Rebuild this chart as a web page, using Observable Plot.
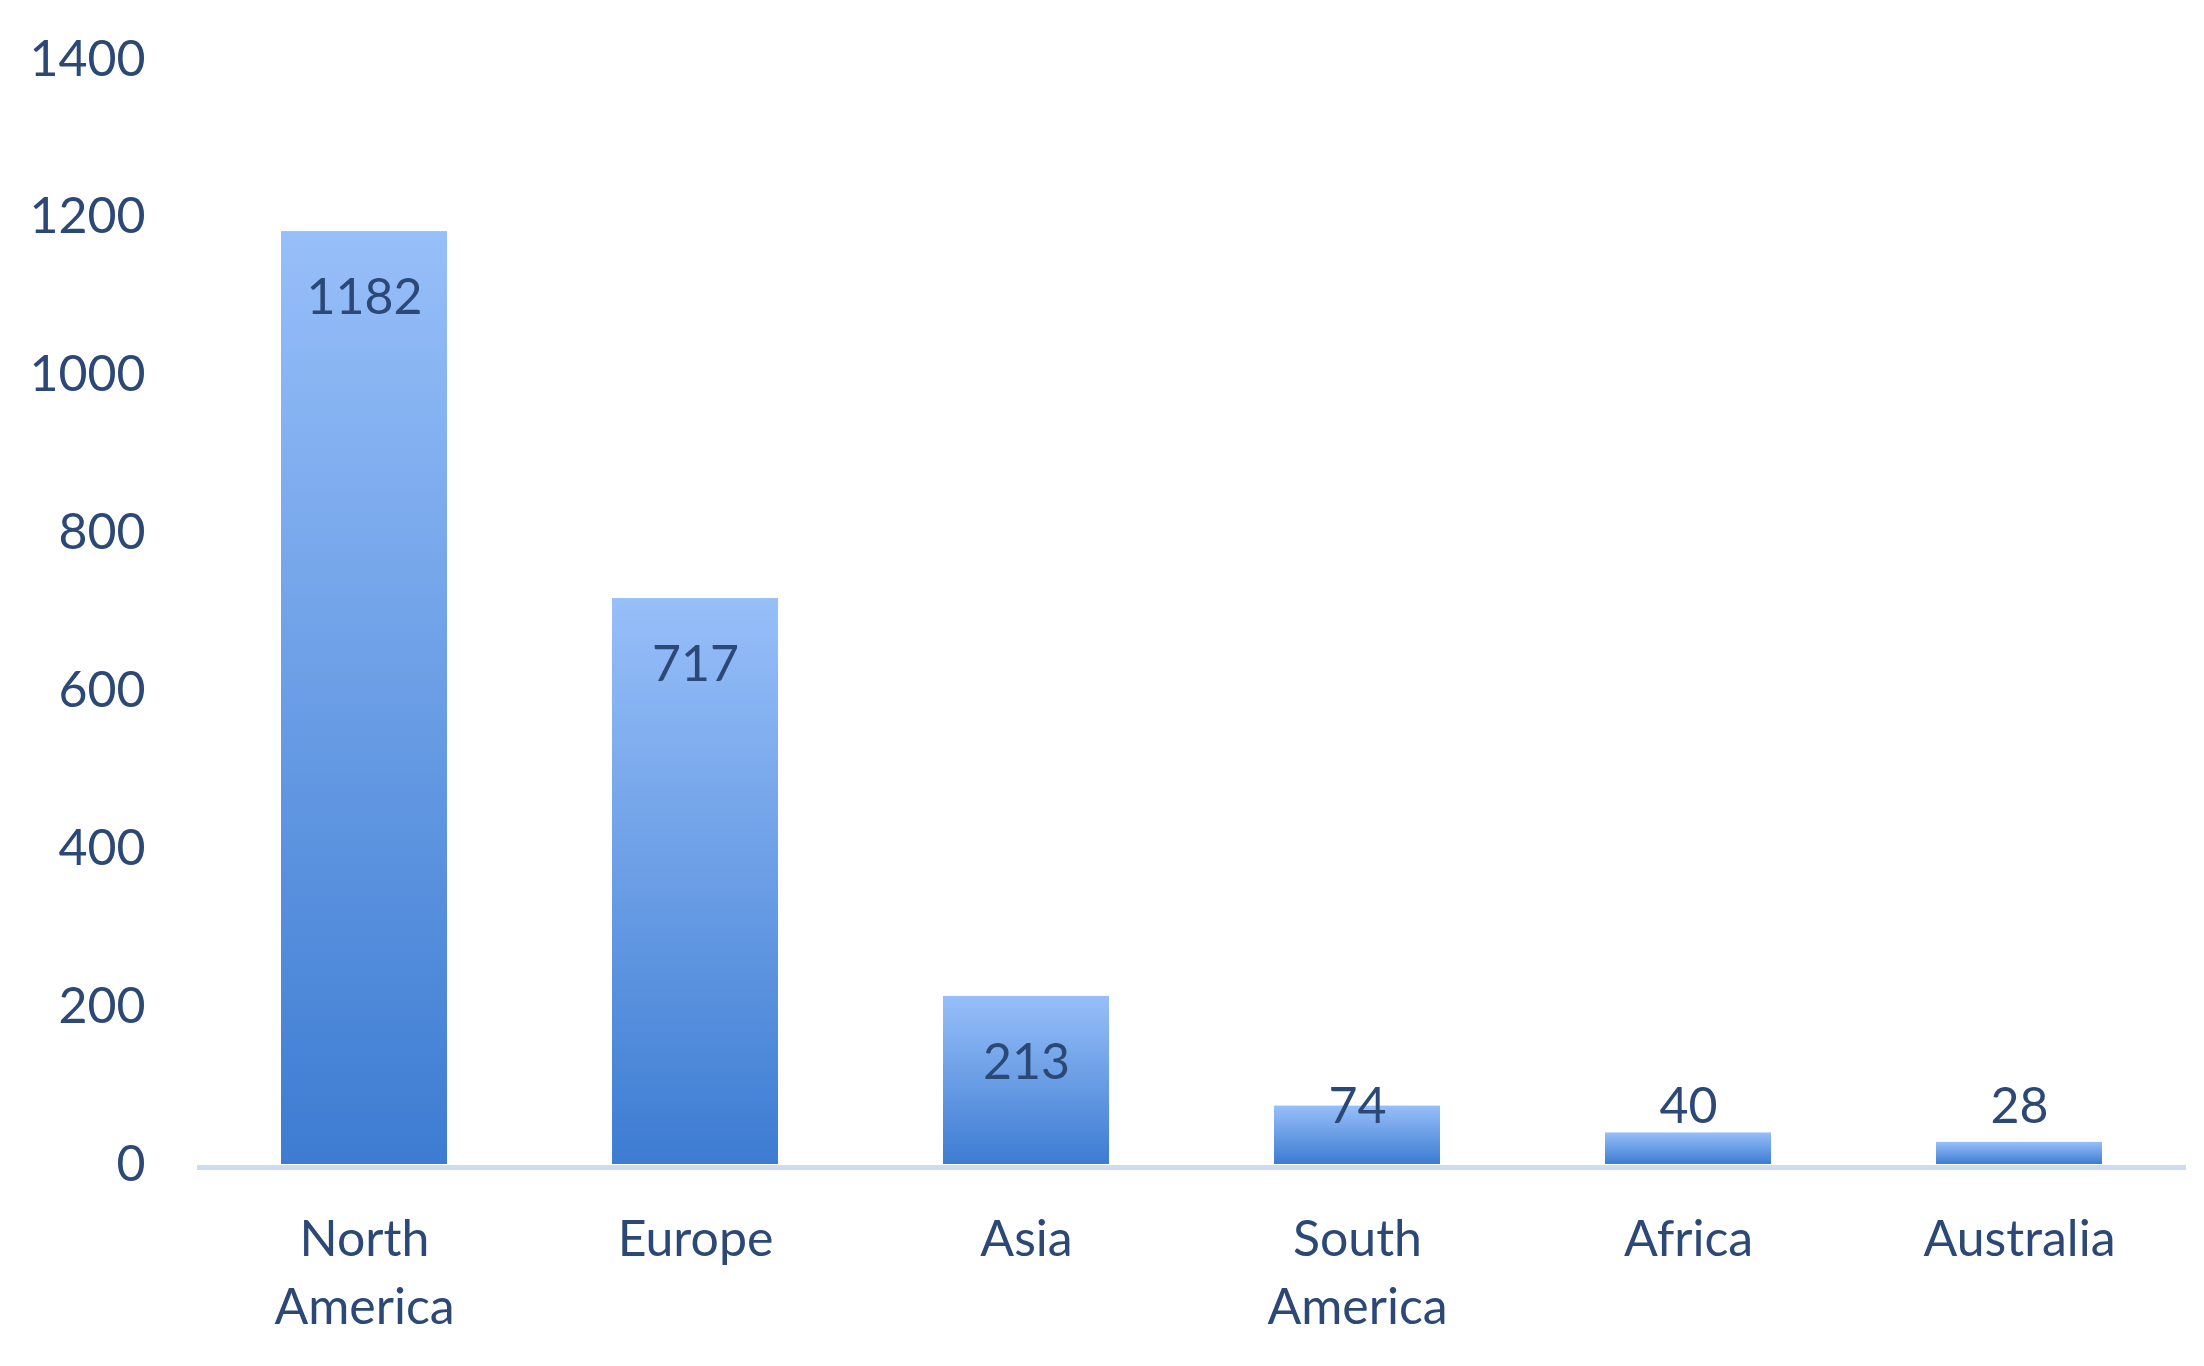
<!DOCTYPE html>
<html>
<head>
<meta charset="utf-8">
<script src="https://cdn.jsdelivr.net/npm/d3@7"></script>
<script src="https://cdn.jsdelivr.net/npm/@observablehq/plot@0.6"></script>
<style>
  html, body { margin: 0; padding: 0; background: #ffffff; }
  #chart { width: 2204px; height: 1366px; overflow: hidden; }
</style>
</head>
<body>
<div id="chart"></div>
<script>
const categories = ["North America", "Europe", "Asia", "South America", "Africa", "Australia"];
const values = [1182, 717, 213, 74, 40, 28];
const yTicks = [0, 200, 400, 600, 800, 1000, 1200, 1400];

const data = categories.map((c, i) => ({ cat: c, value: values[i] }));
const textColor = "#2b4876";

const gradientDefs = () => {
  const defs = d3.create("svg:defs");
  const g = defs.append("linearGradient")
    .attr("id", "barGrad")
    .attr("x1", 0).attr("y1", 0).attr("x2", 0).attr("y2", 1);
  g.append("stop").attr("offset", "0%").attr("stop-color", "#97bff9");
  g.append("stop").attr("offset", "100%").attr("stop-color", "#3d7cd2");
  return defs.node();
};

const chart = Plot.plot({
  width: 2204,
  height: 1366,
  marginLeft: 197,
  marginRight: 18,
  marginTop: 59,
  marginBottom: 202,
  style: { fontFamily: "Lato, 'Open Sans', sans-serif", color: textColor, background: "#ffffff" },
  x: { domain: categories, paddingInner: 0.5, paddingOuter: 0.25, label: null },
  y: { domain: [0, 1400], label: null },
  marks: [
    gradientDefs,
    Plot.ruleY([0], { stroke: "#cfdcef", strokeWidth: 5, dy: 3 }),
    Plot.barY(data, { x: "cat", y: "value", fill: "url(#barGrad)" }),
    Plot.text(data, {
      x: "cat",
      y: d => Math.max(d.value - 84, 73),
      text: d => String(d.value),
      fontSize: 50,
      fill: textColor
    }),
    Plot.axisY({ ticks: yTicks, tickSize: 0, tickPadding: 52, fontSize: 50, label: null, tickFormat: d => String(d) }),
    Plot.axisX({ tickSize: 0, tickPadding: 42, fontSize: 50, lineHeight: 1.38, label: null, tickFormat: d => d.replace(" ", "\n") })
  ]
});

document.getElementById("chart").appendChild(chart);
</script>
</body>
</html>
